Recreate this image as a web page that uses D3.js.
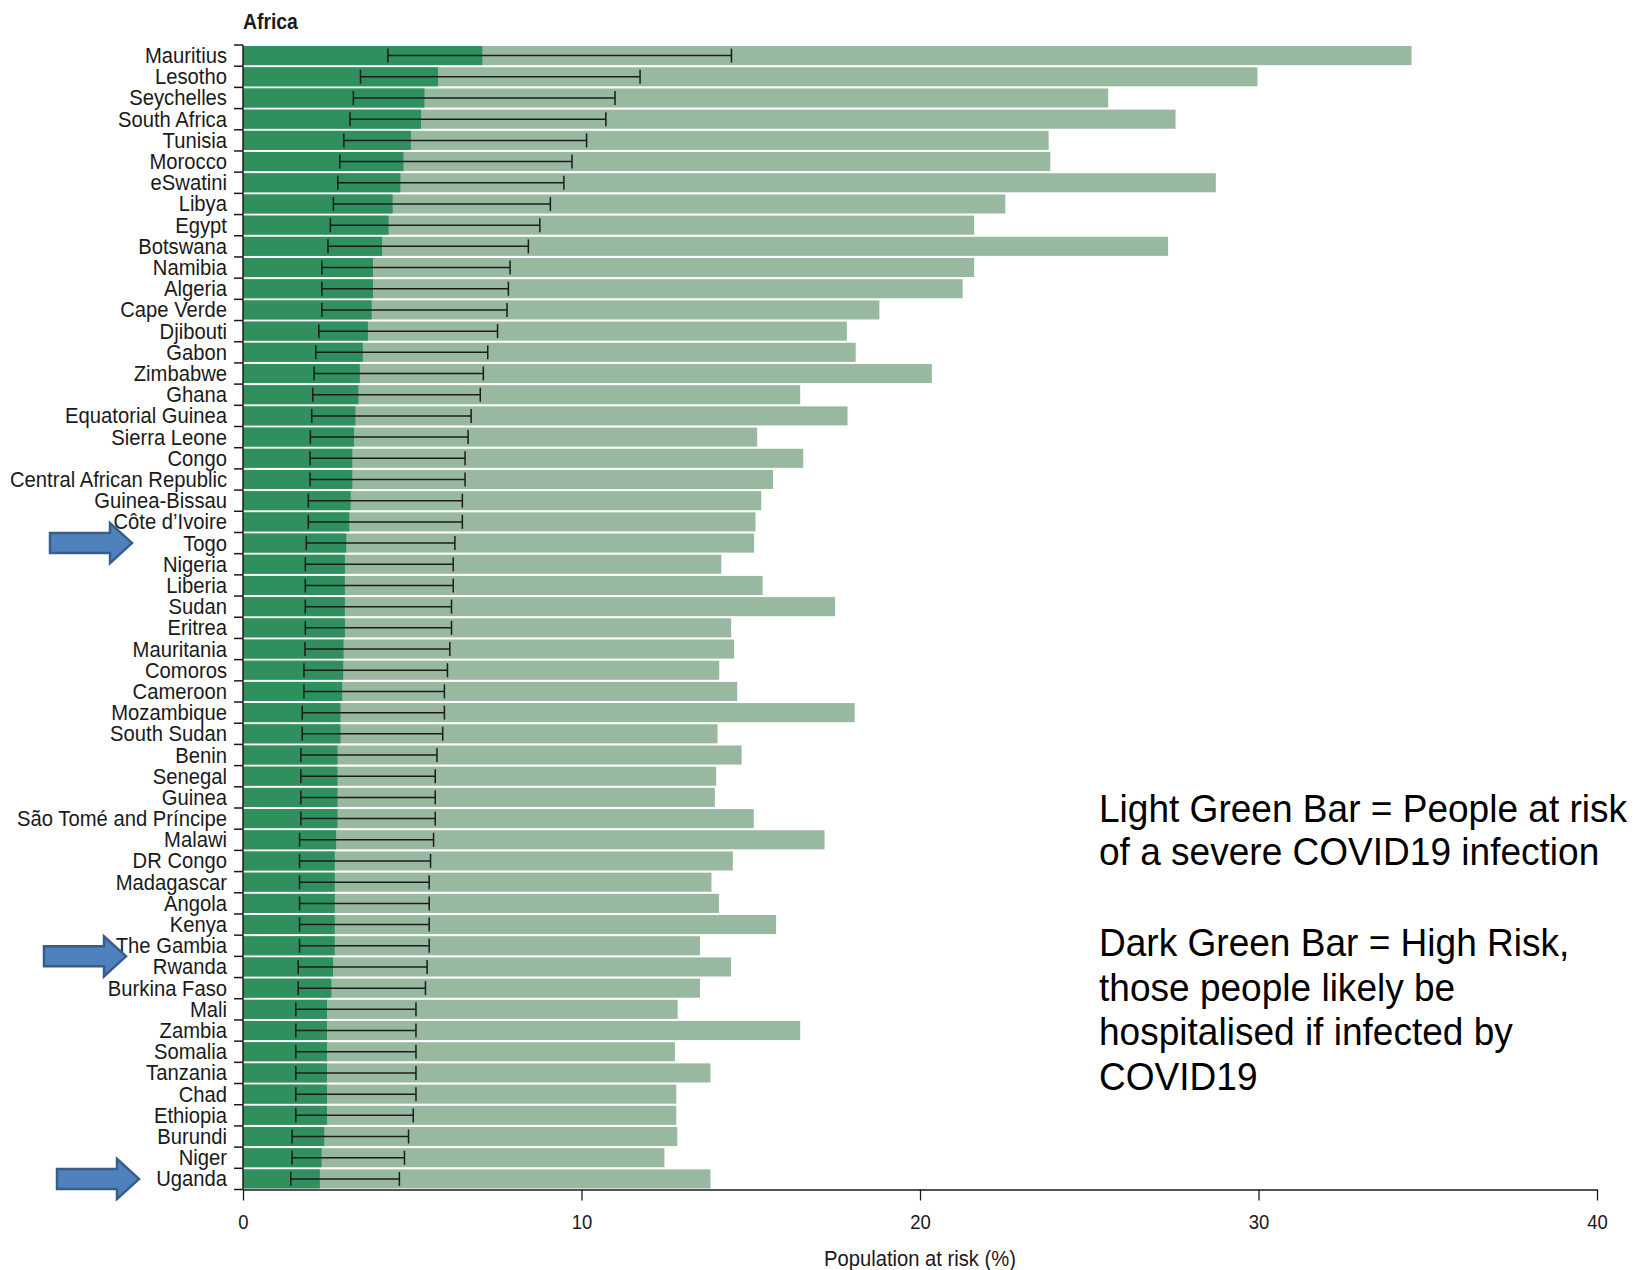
<!DOCTYPE html>
<html>
<head>
<meta charset="utf-8">
<script src="https://cdn.jsdelivr.net/npm/d3@7/dist/d3.min.js"></script>
<style>
  html, body { margin: 0; padding: 0; background: #ffffff; }
  svg { display: block; }
  .lab { font-family: "Liberation Sans", Arial, sans-serif; fill: #1a1a1a; }
  .note { font-family: "Liberation Sans", Arial, sans-serif; fill: #000; }
</style>
</head>
<body>
<svg id="chart" width="1634" height="1270"></svg>
<script>
const countries = ["Mauritius","Lesotho","Seychelles","South Africa","Tunisia","Morocco","eSwatini","Libya","Egypt","Botswana","Namibia","Algeria","Cape Verde","Djibouti","Gabon","Zimbabwe","Ghana","Equatorial Guinea","Sierra Leone","Congo","Central African Republic","Guinea-Bissau","Côte d’Ivoire","Togo","Nigeria","Liberia","Sudan","Eritrea","Mauritania","Comoros","Cameroon","Mozambique","South Sudan","Benin","Senegal","Guinea","São Tomé and Príncipe","Malawi","DR Congo","Madagascar","Angola","Kenya","The Gambia","Rwanda","Burkina Faso","Mali","Zambia","Somalia","Tanzania","Chad","Ethiopia","Burundi","Niger","Uganda"];

// light green: population at increased risk (%)
const anyRisk = [34.52,29.97,25.56,27.55,23.80,23.85,28.74,22.52,21.60,27.33,21.60,21.26,18.80,17.84,18.10,20.35,16.46,17.86,15.19,16.55,15.66,15.31,15.14,15.10,14.13,15.35,17.49,14.42,14.51,14.07,14.60,18.07,14.02,14.73,13.98,13.94,15.09,17.18,14.47,13.84,14.06,15.75,13.50,14.42,13.50,12.84,16.46,12.76,13.81,12.80,12.80,12.83,12.45,13.81];

// dark green: high risk (%)
const highRisk = [7.07,5.76,5.36,5.26,4.96,4.74,4.65,4.42,4.30,4.11,3.84,3.84,3.80,3.69,3.54,3.45,3.41,3.32,3.28,3.23,3.23,3.18,3.14,3.05,3.01,3.01,3.01,3.01,2.97,2.96,2.93,2.88,2.88,2.79,2.79,2.79,2.79,2.75,2.71,2.71,2.71,2.71,2.71,2.66,2.61,2.48,2.48,2.48,2.48,2.48,2.48,2.40,2.32,2.27];

// uncertainty interval of high risk (%)
const highLow = [4.28,3.47,3.26,3.16,2.98,2.86,2.80,2.67,2.58,2.51,2.33,2.33,2.33,2.24,2.15,2.10,2.06,2.03,1.99,1.98,1.98,1.93,1.93,1.87,1.84,1.84,1.84,1.84,1.83,1.80,1.80,1.75,1.75,1.71,1.71,1.71,1.71,1.67,1.67,1.67,1.67,1.67,1.67,1.63,1.63,1.56,1.56,1.56,1.56,1.56,1.56,1.45,1.45,1.41];
const highHigh = [14.43,11.73,10.99,10.72,10.15,9.72,9.48,9.08,8.77,8.43,7.89,7.84,7.80,7.52,7.23,7.10,7.01,6.74,6.65,6.56,6.56,6.48,6.48,6.26,6.21,6.21,6.16,6.16,6.11,6.04,5.95,5.95,5.90,5.73,5.68,5.68,5.68,5.63,5.54,5.50,5.50,5.50,5.50,5.44,5.39,5.11,5.11,5.11,5.11,5.11,5.03,4.89,4.77,4.62];

const xTicks = [0, 10, 20, 30, 40];
const regionTitle = "Africa";
const xTitle = "Population at risk (%)";
const noteLines = ["Light Green Bar = People at risk", "of a severe COVID19 infection", "", "Dark Green Bar = High Risk,", "those people likely be", "hospitalised if infected by", "COVID19"];
// arrows point at: a country row, or the boundary between two rows
const arrowTargets = [["Togo"], ["The Gambia", "Rwanda"], ["Uganda"]];

const rows = countries.map((c, i) => ({c, any: anyRisk[i], high: highRisk[i], lo: highLow[i], hi: highHigh[i]}));

const svg = d3.select("#chart");
const x = d3.scaleLinear().domain([0, 40]).range([243, 1597]);
const y = d3.scaleBand().domain(countries).range([45, 1189.5]).paddingInner(0.1).paddingOuter(0.05);

const LIGHT = "#98b99f", DARK = "#2f8f5d";

// light bars
svg.append("g").selectAll("rect").data(rows).join("rect")
  .attr("x", x(0)).attr("y", d => y(d.c))
  .attr("width", d => x(d.any) - x(0)).attr("height", y.bandwidth())
  .attr("fill", LIGHT);
// dark bars
svg.append("g").selectAll("rect").data(rows).join("rect")
  .attr("x", x(0)).attr("y", d => y(d.c))
  .attr("width", d => x(d.high) - x(0)).attr("height", y.bandwidth())
  .attr("fill", DARK);

// error bars
const eb = svg.append("g").attr("stroke", "#1c1c1c").attr("stroke-width", 1.5).attr("fill", "none");
const capH = 7;
rows.forEach(d => {
  const cy = y(d.c) + y.bandwidth() / 2;
  eb.append("line").attr("x1", x(d.lo)).attr("x2", x(d.hi)).attr("y1", cy).attr("y2", cy);
  eb.append("line").attr("x1", x(d.lo)).attr("x2", x(d.lo)).attr("y1", cy - capH).attr("y2", cy + capH);
  eb.append("line").attr("x1", x(d.hi)).attr("x2", x(d.hi)).attr("y1", cy - capH).attr("y2", cy + capH);
});

// y axis: vertical line with ticks at band boundaries
const yTop = y.range()[0], yBot = y.range()[1];
const ya = svg.append("g").attr("stroke", "#1a1a1a").attr("stroke-width", 1.5);
ya.append("line").attr("x1", x(0)).attr("x2", x(0)).attr("y1", yTop).attr("y2", yBot);
d3.range(countries.length + 1).forEach(i => {
  const yy = yTop + i * (yBot - yTop) / countries.length;
  ya.append("line").attr("x1", x(0) - 9).attr("x2", x(0)).attr("y1", yy).attr("y2", yy);
});
svg.append("g").selectAll("text").data(countries).join("text")
  .attr("class", "lab")
  .attr("transform", d => `translate(227,${y(d) + y.bandwidth() / 2 + 7.5}) scale(0.92,1)`)
  .attr("text-anchor", "end")
  .attr("font-size", 22)
  .text(d => d);

// x axis
const xa = svg.append("g").attr("transform", `translate(0,${yBot})`)
  .call(d3.axisBottom(x).tickValues(xTicks).tickSize(11).tickSizeOuter(0).tickFormat(d3.format("d")));
xa.select(".domain").attr("stroke", "#1a1a1a").attr("stroke-width", 1.5);
xa.selectAll(".tick line").attr("stroke", "#1a1a1a").attr("stroke-width", 1.3);
xa.selectAll(".tick text").attr("class", "lab").attr("font-size", 21).attr("fill", "#1a1a1a")
  .attr("y", null).attr("dy", null)
  .attr("transform", "translate(0,39) scale(0.88,1)");

svg.append("text").attr("class", "lab")
  .attr("transform", `translate(${x(20)},1266) scale(0.94,1)`)
  .attr("text-anchor", "middle").attr("font-size", 21.5).text(xTitle);
svg.append("text").attr("class", "lab")
  .attr("transform", `translate(243,29) scale(0.9,1)`)
  .attr("font-size", 21.5).attr("font-weight", "bold").text(regionTitle);

// annotation
const baselines = [822, 865, 911, 956, 1001, 1045, 1090];
svg.append("g").attr("transform", "translate(1099,0) scale(0.975,1)")
  .selectAll("text").data(noteLines).join("text")
  .attr("class", "note").attr("x", 0).attr("y", (d, i) => baselines[i])
  .attr("font-size", 38).text(d => d);

// arrows
const arrowX = [50, 44, 57];
arrowTargets.forEach((t, i) => {
  const cy = t.length === 1 ? y(t[0]) + y.bandwidth() / 2 : (y(t[0]) + y.bandwidth() + y(t[1])) / 2;
  const x0 = arrowX[i], shaftL = 60, headL = 22, sh = 10, hh = 20;
  const pts = [[x0, cy - sh], [x0 + shaftL, cy - sh], [x0 + shaftL, cy - hh], [x0 + shaftL + headL, cy],
               [x0 + shaftL, cy + hh], [x0 + shaftL, cy + sh], [x0, cy + sh]];
  svg.append("path").attr("d", d3.line()(pts) + "Z")
    .attr("fill", "#4f81bd").attr("stroke", "#385d8a").attr("stroke-width", 2.5).attr("stroke-linejoin", "miter");
});
</script>
</body>
</html>
